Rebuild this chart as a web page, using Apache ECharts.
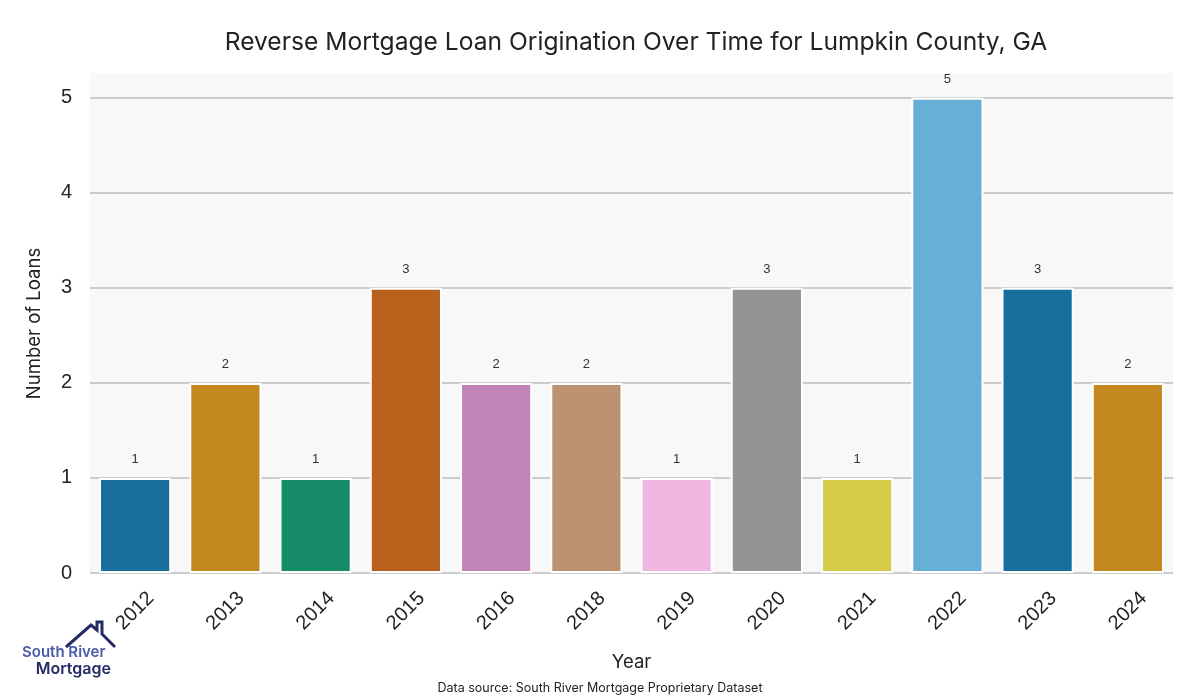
<!DOCTYPE html>
<html>
<head>
<meta charset="utf-8">
<script src="https://cdn.jsdelivr.net/npm/echarts@6/dist/echarts.min.js"></script>
<style>html,body{margin:0;padding:0;background:#fff}#c{width:1200px;height:700px}</style>
</head>
<body>
<div id="c"></div>
<script>
const years = ['2012','2013','2014','2015','2016','2018','2019','2020','2021','2022','2023','2024'];
const loans = [1,2,1,3,2,2,1,3,1,5,3,2];
const barColors = ['#176d9c','#c38820','#168b68','#b9601c','#c283b6','#bc9271','#f0b8e0','#949494','#d6cb49','#66afd7','#176d9c','#c38820'];
const yTicks = [0,1,2,3,4,5];

const chart = echarts.init(document.getElementById('c'), null, {renderer:'canvas'});
const sans = '"Liberation Sans", Arial, sans-serif';
const ui = 'Inter, "Noto Sans", sans-serif';

chart.setOption({
  animation: false,
  backgroundColor: '#ffffff',
  title: {
    text: 'Reverse Mortgage Loan Origination Over Time for Lumpkin County, GA',
    left: 631, top: 25, textAlign: 'center',
    textStyle: {fontFamily: ui, fontSize: 24.6, fontWeight: 'normal', color: '#222'}
  },
  grid: {left: 90, right: 27, top: 74, bottom: 127, show: true, backgroundColor: '#f8f8f8', borderWidth: 0},
  xAxis: {
    type: 'category', data: years,
    axisTick: {show: false}, axisLine: {show: false},
    axisLabel: {fontFamily: sans, fontSize: 20, color: '#222', rotate: 45, align: 'center', verticalAlign: 'middle', margin: 38},
    name: 'Year', nameLocation: 'middle', nameGap: 80,
    nameTextStyle: {fontFamily: ui, fontSize: 18.5, color: '#222'}
  },
  yAxis: {
    type: 'value', min: 0, max: 5.25, interval: 1,
    axisLine: {show: false}, axisTick: {show: false},
    axisLabel: {fontFamily: sans, fontSize: 20, color: '#222', margin: 18,
      formatter: v => yTicks.includes(v) ? String(v) : ''},
    splitLine: {lineStyle: {color: ['#cccccc','#cccccc','#cccccc','#cccccc','#cccccc','#cccccc','#f8f8f8'], width: 2}},
    name: 'Number of Loans', nameLocation: 'middle', nameGap: 46,
    nameTextStyle: {fontFamily: ui, fontSize: 18.5, color: '#222'}
  },
  series: [{
    type: 'bar', barCategoryGap: '20%',
    data: loans.map((v,i) => ({value: v, itemStyle: {color: barColors[i]}})),
    itemStyle: {borderColor: '#ffffff', borderWidth: 2},
    label: {show: true, position: 'top', distance: 12, fontFamily: sans, fontSize: 13, color: '#333'}
  }],
  graphic: [
    {type: 'text', left: 'center', top: 682, style: {text: 'Data source: South River Mortgage Proprietary Dataset', font: '12.5px ' + ui, fill: '#222'}},
    {type: 'polyline', shape: {points: [[66,647],[91,625],[97,630],[97,622],[102,622],[102,634],[115,647]]},
      style: {stroke: '#232a66', lineWidth: 3, fill: null}},
    {type: 'text', x: 22, y: 645, style: {text: 'South River', font: '600 15px ' + ui, fill: '#4a5bab'}},
    {type: 'text', x: 111, y: 661, style: {text: 'Mortgage', font: '600 16px ' + ui, fill: '#232a66', align: 'right'}}
  ]
});
</script>
</body>
</html>
